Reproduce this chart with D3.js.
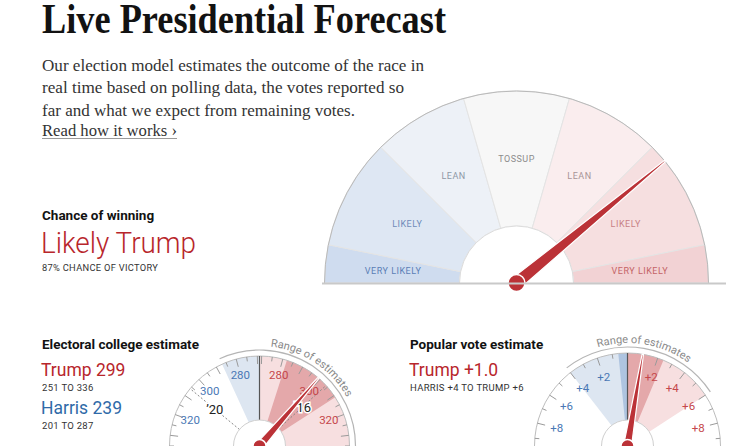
<!DOCTYPE html>
<html><head><meta charset="utf-8">
<script src="https://cdn.jsdelivr.net/npm/d3@7"></script>
<style>body{margin:0;background:#fff} svg{display:block}</style>
</head><body>
<svg id="c" width="740" height="446"></svg>
<script>
// ---------- data ----------
const titleText = "Live Presidential Forecast";
const introLines = [
  "Our election model estimates the outcome of the race in",
  "real time based on polling data, the votes reported so",
  "far and what we expect from remaining votes."
];
const linkText = "Read how it works ›";

const chanceTitle = "Chance of winning";
const headline = "Likely Trump";
const chanceNote = "87% CHANCE OF VICTORY";
const ratingLabels = ["VERY LIKELY", "LIKELY", "LEAN", "TOSSUP", "LEAN", "LIKELY", "VERY LIKELY"];
const ratingBreaks = [0, 0.03, 0.15, 0.40, 0.60, 0.85, 0.97, 1];
const trumpChance = 0.87;

const evTitle = "Electoral college estimate";
const evTrump = 299, evHarris = 239;
const evRangeTrump = [251, 336];
const evRangeHarris = [201, 287];
const evInnerTrump = [282, 311];
const evTie = 269, evTotal = 538;
const evPast = [{label: "’20", value: 232}, {label: "’16", value: 304}];
const evTickLabels = [280, 300, 320];

const popTitle = "Popular vote estimate";
const popMargin = 1.0;            // Trump margin, points
const popRange = [-4, 6];
const popInner = [-0.6, 2.4];
const popTickLabels = [2, 4, 6, 8];

// ---------- styles ----------
const RED = "#b8262b", BLUE = "#2f6aa8", NEEDLE = "#bb3237";
const ratingFills = ["#cfdcef", "#dee7f3", "#edf1f7", "#f7f7f7", "#faedee", "#f6dfe0", "#f2d2d4"];
const ratingText = ["#5b7fb6", "#6f8cb9", "#8d98a6", "#8c8c8c", "#a89496", "#c88286", "#c46467"];
const SANS = "Roboto, 'Liberation Sans', sans-serif";
const SERIF = "'Liberation Serif', 'DejaVu Serif', serif";

const svg = d3.select("#c");
const rad = d => d * Math.PI / 180;
const arcGen = d3.arc();

// ---------- header text ----------
svg.append("text").attr("x", 42).attr("y", 33).text(titleText)
  .attr("font-family", SERIF).attr("font-weight", 700).attr("font-size", 42)
  .attr("fill", "#121212").attr("textLength", 404).attr("lengthAdjust", "spacingAndGlyphs");

const introWidths = [382, 362, 313];
introLines.forEach((t, i) => {
  svg.append("text").attr("x", 42).attr("y", 71 + i * 22.3).text(t)
    .attr("font-family", SERIF).attr("font-size", 17.5).attr("fill", "#333")
    .attr("textLength", introWidths[i]).attr("lengthAdjust", "spacingAndGlyphs");
});
svg.append("text").attr("x", 42).attr("y", 135.5).text(linkText)
  .attr("font-family", SERIF).attr("font-size", 17.5).attr("fill", "#333")
  .attr("textLength", 135).attr("lengthAdjust", "spacingAndGlyphs");
svg.append("line").attr("x1", 42).attr("x2", 177).attr("y1", 138.5).attr("y2", 138.5)
  .attr("stroke", "#9a9a9a").attr("stroke-width", 1);

// ---------- chance of winning text ----------
svg.append("text").attr("x", 42).attr("y", 220).text(chanceTitle)
  .attr("font-family", SANS).attr("font-weight", 700).attr("font-size", 13.5).attr("fill", "#121212");
svg.append("text").attr("x", 41).attr("y", 252.5).text(headline)
  .attr("font-family", SANS).attr("font-weight", 300).attr("font-size", 29).attr("fill", RED)
  .attr("textLength", 155).attr("lengthAdjust", "spacingAndGlyphs");
svg.append("text").attr("x", 42).attr("y", 271).text(chanceNote)
  .attr("font-family", SANS).attr("font-size", 9.3).attr("fill", "#333").attr("letter-spacing", 0.3);

// ---------- main gauge ----------
const mcx = 516.5, mcy = 283, mR = 192, mr = 57;
const mainAngle = d3.scaleLinear().domain(ratingBreaks).range([-90, -78.5, -45, -16, 16, 45, 78.5, 90]);
const mg = svg.append("g").attr("transform", `translate(${mcx},${mcy})`);
ratingLabels.forEach((lab, i) => {
  const a0 = mainAngle(ratingBreaks[i]), a1 = mainAngle(ratingBreaks[i + 1]);
  mg.append("path")
    .attr("d", arcGen({innerRadius: mr, outerRadius: mR, startAngle: rad(a0), endAngle: rad(a1)}))
    .attr("fill", ratingFills[i]).attr("stroke", "#e4e4e4").attr("stroke-width", 1);
});
mg.append("path").attr("d", `M${-mR},0 A${mR},${mR} 0 0 1 ${mR},0`).attr("fill", "none")
  .attr("stroke", "#b9b9b9").attr("stroke-width", 1);
mg.append("path").attr("d", `M${-mr},0 A${mr},${mr} 0 0 1 ${mr},0`).attr("fill", "#fff")
  .attr("stroke", "#dcdcdc").attr("stroke-width", 1);
ratingLabels.forEach((lab, i) => {
  const a = rad((mainAngle(ratingBreaks[i]) + mainAngle(ratingBreaks[i + 1])) / 2);
  const lr = 124;
  mg.append("text").attr("x", lr * Math.sin(a)).attr("y", -lr * Math.cos(a)).text(lab)
    .attr("text-anchor", "middle").attr("dominant-baseline", "central")
    .attr("font-family", SANS).attr("font-size", 9).attr("letter-spacing", 0.5)
    .attr("fill", ratingText[i]);
});
svg.append("line").attr("x1", 322).attr("x2", 726).attr("y1", mcy + 0.5).attr("y2", mcy + 0.5)
  .attr("stroke", "#c9c9c9").attr("stroke-width", 2);

function needle(g, angle, len, w0, w1, r) {
  const n = g.append("g").attr("transform", `rotate(${angle})`);
  n.append("path").attr("d", `M${-w0},0 L${-w1},${-len} L${w1},${-len} L${w0},0 Z`)
    .attr("fill", NEEDLE).attr("stroke", "#fff").attr("stroke-width", 1.2).attr("stroke-linejoin", "round");
  g.append("circle").attr("r", r).attr("fill", NEEDLE).attr("stroke", "#fff").attr("stroke-width", 1.5);
}
needle(mg, mainAngle(trumpChance), 192, 6.5, 0.8, 8.5);

// ---------- small gauges ----------
function smallGauge(o) {
  const g = svg.append("g").attr("transform", `translate(${o.cx},${o.cy})`);
  const A = o.scale;
  const wedge = (v0, v1, fill) => {
    if (v1 <= v0) return;
    g.append("path").attr("d", arcGen({innerRadius: o.r, outerRadius: o.R,
      startAngle: rad(A(v0)), endAngle: rad(A(v1))})).attr("fill", fill);
  };
  wedge(o.range[0], Math.min(o.tie, o.range[1]), "#dde6f1");
  wedge(Math.max(o.tie, o.range[0]), o.range[1], "#f7dfe0");
  wedge(o.inner[0], Math.min(o.tie, o.inner[1]), "#aec4e0");
  wedge(Math.max(o.tie, o.inner[0]), o.inner[1], "#e4a8aa");
  g.append("path").attr("d", `M${-o.R},0 A${o.R},${o.R} 0 0 1 ${o.R},0`).attr("fill", "none")
    .attr("stroke", "#bdbdbd").attr("stroke-width", 1);
  o.ticks.forEach(t => {
    const a = rad(A(t.v));
    const r0 = o.R - (t.major ? 8 : 4.5);
    g.append("line").attr("x1", r0 * Math.sin(a)).attr("y1", -r0 * Math.cos(a))
      .attr("x2", o.R * Math.sin(a)).attr("y2", -o.R * Math.cos(a))
      .attr("stroke", "#9a9a9a").attr("stroke-width", 1);
  });
  (o.past || []).forEach(p => {
    const a = rad(A(p.value));
    g.append("line").attr("x1", o.r * Math.sin(a)).attr("y1", -o.r * Math.cos(a))
      .attr("x2", o.R * Math.sin(a)).attr("y2", -o.R * Math.cos(a))
      .attr("stroke", "#888").attr("stroke-width", 1).attr("stroke-dasharray", "2,2");
  });
  g.append("line").attr("x1", 0).attr("x2", 0).attr("y1", -o.r).attr("y2", -o.R)
    .attr("stroke", "#555").attr("stroke-width", 1.2);
  o.labels.forEach(l => {
    const a = rad(A(l.v));
    g.append("text").attr("x", o.lr * Math.sin(a)).attr("y", -o.lr * Math.cos(a)).text(l.text)
      .attr("text-anchor", "middle").attr("dominant-baseline", "central")
      .attr("font-family", SANS).attr("font-size", 11.5).attr("fill", l.color);
  });
  (o.past || []).forEach(p => {
    const a = rad(A(p.value));
    g.append("text").attr("x", 58 * Math.sin(a)).attr("y", -58 * Math.cos(a)).text(p.label)
      .attr("text-anchor", "middle").attr("dominant-baseline", "central")
      .attr("font-family", SANS).attr("font-size", 13).attr("fill", "#222")
      .attr("stroke", "#fff").attr("stroke-width", 3).attr("paint-order", "stroke");
  });
  const bR = o.R + 6;
  g.append("path").attr("d", arcGen({innerRadius: bR, outerRadius: bR,
      startAngle: rad(A(o.range[0])), endAngle: rad(A(o.range[1]))}))
    .attr("fill", "none").attr("stroke", "#b5b5b5").attr("stroke-width", 1.2);
  const tR = o.R + 10;
  const pid = "tp" + o.id;
  g.append("path").attr("id", pid).attr("d", `M${-tR},0 A${tR},${tR} 0 0 1 ${tR},0`).attr("fill", "none");
  const mid = A((o.range[0] + o.range[1]) / 2);
  g.append("text").attr("font-family", SANS).attr("font-size", 11).attr("fill", "#8a8a8a")
    .append("textPath").attr("href", "#" + pid).attr("startOffset", ((mid + 90) / 180) * Math.PI * tR)
    .attr("text-anchor", "middle").text("Range of estimates");
  g.append("circle").attr("r", o.r).attr("fill", "#fff").attr("stroke", "#cfcfcf").attr("stroke-width", 1);
  needle(g, A(o.value), o.R, 4, 0.7, 6.5);
}

// electoral college
svg.append("text").attr("x", 42).attr("y", 348.5).text(evTitle)
  .attr("font-family", SANS).attr("font-weight", 700).attr("font-size", 13.5).attr("fill", "#121212");
svg.append("text").attr("x", 41).attr("y", 376).text("Trump " + evTrump)
  .attr("font-family", SANS).attr("font-size", 17.5).attr("fill", RED);
svg.append("text").attr("x", 42).attr("y", 391).text(evRangeTrump[0] + " TO " + evRangeTrump[1])
  .attr("font-family", SANS).attr("font-size", 9.5).attr("fill", "#333").attr("letter-spacing", 0.3);
svg.append("text").attr("x", 41).attr("y", 414).text("Harris " + evHarris)
  .attr("font-family", SANS).attr("font-size", 17.5).attr("fill", BLUE);
svg.append("text").attr("x", 42).attr("y", 429).text(evRangeHarris[0] + " TO " + evRangeHarris[1])
  .attr("font-family", SANS).attr("font-size", 9.5).attr("fill", "#333").attr("letter-spacing", 0.3);

const evScale = d3.scaleLinear().domain([203, 335]).range([-90, 90]);
const evTicks = [];
d3.range(270, 336, 5).forEach(v => {
  evTicks.push({v: v, major: v % 10 === 0});
  evTicks.push({v: evTotal - v, major: v % 10 === 0});
});
const evLabels = [];
evTickLabels.forEach(v => {
  evLabels.push({v: v, text: String(v), color: "#c5474b"});
  evLabels.push({v: evTotal - v, text: String(v), color: "#4a78b5"});
});
smallGauge({id: "ev", cx: 259.5, cy: 446, R: 90, r: 26, lr: 74, scale: evScale, tie: evTie,
  range: evRangeTrump, inner: evInnerTrump, value: evTrump, ticks: evTicks, labels: evLabels, past: evPast});

// popular vote
svg.append("text").attr("x", 410).attr("y", 348.5).text(popTitle)
  .attr("font-family", SANS).attr("font-weight", 700).attr("font-size", 13.5).attr("fill", "#121212");
svg.append("text").attr("x", 409).attr("y", 376).text("Trump +" + popMargin.toFixed(1))
  .attr("font-family", SANS).attr("font-size", 17.5).attr("fill", RED);
svg.append("text").attr("x", 410).attr("y", 391).text("HARRIS +" + (-popRange[0]) + " TO TRUMP +" + popRange[1])
  .attr("font-family", SANS).attr("font-size", 9.5).attr("fill", "#333").attr("letter-spacing", 0.3);

const popScale = d3.scaleLinear().domain([-9.5, 9.5]).range([-90, 90]);
const popTicks = [];
d3.range(1, 10).forEach(v => {
  popTicks.push({v: v, major: v % 2 === 0});
  popTicks.push({v: -v, major: v % 2 === 0});
});
const popLabels = [];
popTickLabels.forEach(v => {
  popLabels.push({v: v, text: "+" + v, color: "#c5474b"});
  popLabels.push({v: -v, text: "+" + v, color: "#4a78b5"});
});
smallGauge({id: "pop", cx: 627.5, cy: 446, R: 93, r: 26, lr: 73, scale: popScale, tie: 0,
  range: popRange, inner: popInner, value: popMargin, ticks: popTicks, labels: popLabels});
</script>
</body></html>
